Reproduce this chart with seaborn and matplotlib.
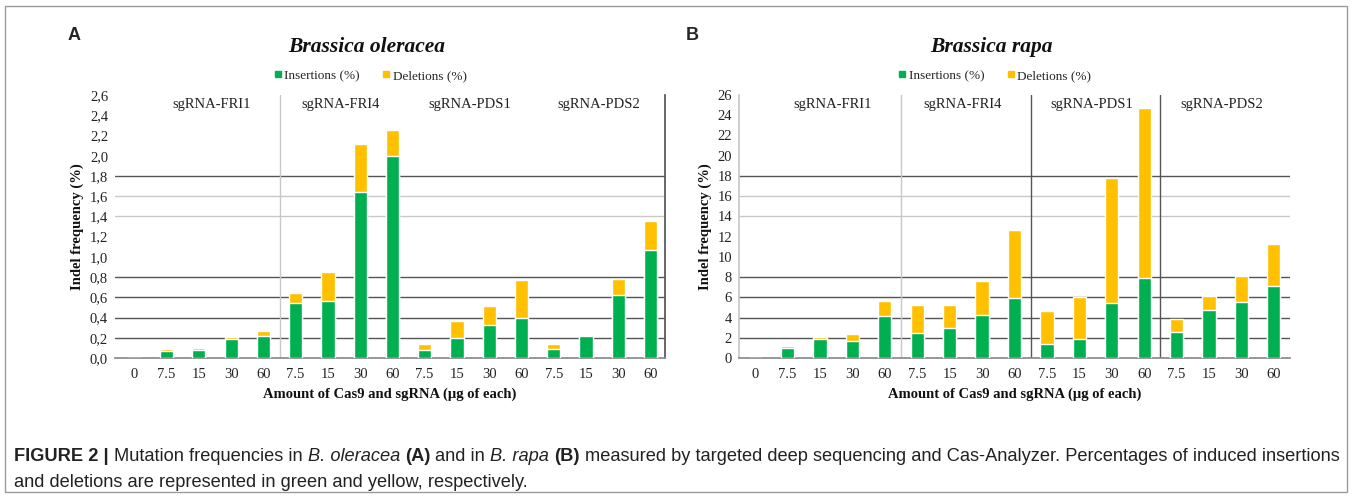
import matplotlib
matplotlib.use("Agg")
import matplotlib.pyplot as plt
from matplotlib.lines import Line2D
from matplotlib.patches import Rectangle
from matplotlib import font_manager
import numpy as np
import pandas as pd
import seaborn as sns

# ---------------- data ----------------
doses = ["0", "7.5", "15", "30", "60",
         "7.5", "15", "30", "60",
         "7.5", "15", "30", "60",
         "7.5", "15", "30", "60"]
bar_group = ["sgRNA-FRI1"] * 5 + ["sgRNA-FRI4"] * 4 + ["sgRNA-PDS1"] * 4 + ["sgRNA-PDS2"] * 4
groups = ["sgRNA-FRI1", "sgRNA-FRI4", "sgRNA-PDS1", "sgRNA-PDS2"]

ole_ins = [0, 0.07, 0.08, 0.19, 0.22, 0.54, 0.56, 1.64, 2.00, 0.08, 0.20, 0.33, 0.40, 0.09, 0.22, 0.62, 1.07]
ole_del = [0, 0.02, 0.015, 0.02, 0.05, 0.10, 0.29, 0.48, 0.25, 0.06, 0.17, 0.18, 0.37, 0.05, 0.01, 0.16, 0.28]

rapa_ins = [0, 1.0, 1.9, 1.7, 4.2, 2.5, 3.0, 4.3, 5.9, 1.4, 1.9, 5.4, 7.9, 2.6, 4.75, 5.5, 7.15]
rapa_del = [0, 0.2, 0.2, 0.65, 1.4, 2.7, 2.2, 3.3, 6.8, 3.2, 4.1, 12.4, 16.8, 1.3, 1.4, 2.65, 4.1]

ole_yticks = [0.0, 0.2, 0.4, 0.6, 0.8, 1.0, 1.2, 1.4, 1.6, 1.8, 2.0, 2.2, 2.4, 2.6]
rapa_yticks = list(range(0, 27, 2))

# ---------------- style ----------------
sns.set_theme(style="white")
GREEN = "#00B050"
YELLOW = "#FFC000"
DARK = "#555555"
LIGHT = "#c8c8c8"


def have(fam):
    try:
        font_manager.findfont(font_manager.FontProperties(family=fam), fallback_to_default=False)
        return True
    except Exception:
        return False


SERIF = "Liberation Serif"
SANS = "Liberation Sans Narrow" if have("Liberation Sans Narrow") else "Liberation Sans"
plt.rcParams["font.family"] = [SERIF, "DejaVu Serif"]

W, H = 1357, 498
fig = plt.figure(figsize=(W / 100, H / 100), dpi=100)
fig.patch.set_facecolor("white")
fig.patches.append(Rectangle((5 / W, 6 / H), 1342 / W, 486 / H, transform=fig.transFigure,
                             fill=False, edgecolor="#9a9a9a", linewidth=1.0))

axA = fig.add_axes([115 / W, 1 - 358 / H, 550 / W, 263 / H])
axB = fig.add_axes([739 / W, 1 - 358 / H, 551 / W, 263 / H])

keys = [f"{g}|{d}|{i}" for i, (g, d) in enumerate(zip(bar_group, doses))]


def panel(ax, ins, dele, yticks, fmt, title, dark_grid, light_grid, seps, right_spine, left_spine):
    df = pd.DataFrame({"key": keys, "ins": ins, "total": np.array(ins) + np.array(dele)})
    for y in light_grid:
        ax.axhline(y, color=LIGHT, lw=1.0, zorder=0)
    for y in dark_grid:
        ax.axhline(y, color=DARK, lw=1.0, zorder=0)
    for x, c in seps:
        ax.axvline(x, color=c, lw=1.0, zorder=0)
    sns.barplot(data=df, x="key", y="total", order=keys, color=YELLOW, saturation=1,
                width=0.41, ax=ax, zorder=2)
    sns.barplot(data=df, x="key", y="ins", order=keys, color=GREEN, saturation=1,
                width=0.41, ax=ax, zorder=3)
    ax.set_xlim(-0.6, 16.45)
    ax.set_ylim(yticks[0], yticks[-1])
    ax.set_yticks(yticks)
    ax.set_yticklabels([fmt(v) for v in yticks], fontsize=10.5, color="#222222")
    ax.set_xticks(range(len(doses)))
    ax.set_xticklabels(doses, fontsize=10.5, color="#222222")
    ax.tick_params(axis="x", length=0, pad=7)
    ax.tick_params(axis="y", length=0, pad=5)
    ax.set_xlabel("Amount of Cas9 and sgRNA (µg of each)", fontsize=10.5, fontweight="bold",
                  labelpad=5, color="#111111")
    ax.set_ylabel("Indel frequency (%)", fontsize=10.5, fontweight="bold", labelpad=4,
                  color="#111111")
    for s in ax.spines.values():
        s.set_visible(False)
    ax.spines["bottom"].set_visible(True)
    ax.spines["bottom"].set_color("#8a8a8a")
    if right_spine:
        ax.spines["right"].set_visible(True)
        ax.spines["right"].set_color(DARK)
    if left_spine:
        ax.spines["left"].set_visible(True)
        ax.spines["left"].set_color(LIGHT)
    # group labels
    for g in groups:
        idx = [i for i, (bg, d) in enumerate(zip(bar_group, doses)) if bg == g and d != "0"]
        cx = (idx[0] + idx[-1]) / 2 - 0.1
        ax.text(cx, 0.962, g, transform=ax.get_xaxis_transform(), ha="center", va="center",
                fontsize=10.5, color="#222222")
    ax.set_title(title, fontsize=15.5, fontweight="bold", fontstyle="italic", pad=31,
                 color="#111111", x=0.458)
    handles = [Line2D([], [], marker="s", ls="", color=GREEN, markersize=5),
               Line2D([], [], marker="s", ls="", color=YELLOW, markersize=5)]
    ax.legend(handles, ["Insertions (%)", "Deletions (%)"], loc="lower center",
              bbox_to_anchor=(0.463, 1.005), ncol=2, frameon=False, fontsize=9.5,
              handletextpad=0.1, columnspacing=1.6, handlelength=0.8)


panel(axA, ole_ins, ole_del, ole_yticks, lambda v: f"{v:.1f}".replace(".", ","),
      "Brassica oleracea", [0.2, 0.4, 0.6, 0.8, 1.8], [1.4, 1.6],
      [(4.5, LIGHT)], True, False)
panel(axB, rapa_ins, rapa_del, rapa_yticks, lambda v: f"{int(v)}",
      "Brassica rapa", [2, 4, 6, 8, 18], [14, 16],
      [(4.5, LIGHT), (8.5, DARK), (12.5, DARK)], False, True)
axB.set_xlim(-0.5, 16.5)

fig.text(68 / W, 1 - 36 / H, "A", fontsize=13, fontweight="bold", family=["Liberation Sans"],
         ha="left", va="center")
fig.text(686 / W, 1 - 36 / H, "B", fontsize=13, fontweight="bold", family=["Liberation Sans"],
         ha="left", va="center")

# ---------------- caption ----------------
line1 = [("FIGURE 2 |", "bold", "normal"), ("Mutation frequencies in", "normal", "normal"),
         ("B. oleracea", "normal", "italic"), ("(A)", "bold", "normal"),
         ("and in", "normal", "normal"), ("B. rapa", "normal", "italic"),
         ("(B)", "bold", "normal"),
         ("measured by targeted deep sequencing and Cas-Analyzer. Percentages of induced insertions",
          "normal", "normal")]
line2 = [("and deletions are represented in green and yellow, respectively.", "normal", "normal")]

renderer = fig.canvas.get_renderer()


def place(pieces, x0, y, size):
    arts = []
    x = x0
    sp = None
    for txt, wt, st in pieces:
        t = fig.text(x / W, 1 - y / H, txt, fontsize=size, fontweight=wt, fontstyle=st,
                     family=[SANS, "DejaVu Sans"], color="#222222", ha="left", va="baseline")
        if sp is None:
            a = fig.text(0, 0, "x x", fontsize=size, family=[SANS])
            b = fig.text(0, 0, "xx", fontsize=size, family=[SANS])
            sp = a.get_window_extent(renderer).width - b.get_window_extent(renderer).width
            a.remove(); b.remove()
        w = t.get_window_extent(renderer).width
        x += w + sp
        arts.append(t)
    return arts, x - sp - x0


size = 11.5
arts, width = place(line1, 14, 461, size)
for a in arts:
    a.remove()
size = size * 1328 / width
place(line1, 14, 461, size)
place(line2, 14, 487, size)

fig.savefig("out.png", dpi=100, facecolor="white")
